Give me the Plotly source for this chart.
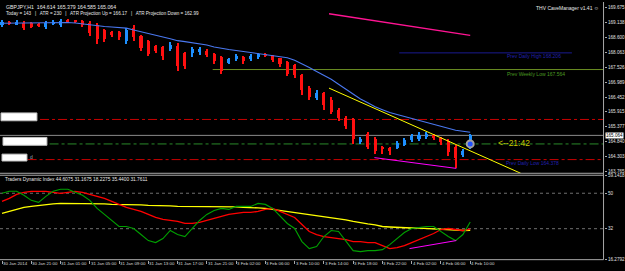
import plotly.graph_objects as go

W, H = 625, 271

# ---------------- data ----------------
bars = list(range(65))
opens = [169.07,169.18,169.07,169.14,169.11,169.07,169.00,169.11,169.04,169.21,
         169.21,169.21,169.14,169.04,168.86,168.79,168.79,168.47,168.93,168.65,
         168.47,168.29,168.26,168.19,168.29,168.05,168.05,168.08,168.12,168.01,
         167.91,167.69,167.83,167.91,167.83,167.91,168.01,167.94,167.87,167.73,
         167.62,167.23,166.77,166.42,166.60,166.35,165.99,165.71,165.64,164.83,
         165.11,164.93,164.65,164.61,164.61,164.72,164.90,164.93,165.00,165.07,
         164.97,164.86,164.65,164.37,164.614]
highs = [169.25,169.21,169.25,169.21,169.18,169.11,169.21,169.25,169.29,169.29,
         169.25,169.25,169.21,169.11,168.90,168.83,168.83,168.93,169.07,168.68,
         168.51,168.33,168.29,168.44,168.40,168.08,168.26,168.26,168.19,168.05,
         167.94,167.87,168.01,167.94,168.01,168.05,168.05,167.98,167.87,167.76,
         167.66,167.30,166.84,166.70,166.63,166.45,166.07,165.75,165.71,165.00,
         165.18,165.00,164.68,164.65,164.86,164.97,165.11,165.18,165.18,165.11,
         165.00,164.93,164.72,164.58,165.13]
lows = [169.00,169.04,169.04,168.86,168.93,169.00,168.90,169.07,169.00,169.14,
        169.14,169.00,168.65,168.37,168.44,168.61,168.51,168.37,168.47,168.12,
        167.94,168.05,167.80,168.12,167.41,167.48,167.91,167.98,167.91,167.66,
        167.30,167.66,167.76,167.66,167.76,167.83,167.91,167.73,167.55,167.20,
        167.13,166.53,166.35,166.35,165.99,165.82,165.57,165.29,164.76,164.76,
        164.58,164.40,164.40,164.37,164.58,164.68,164.83,164.86,164.93,164.90,
        164.72,164.33,163.87,164.30,164.585]
closes = [169.18,169.11,169.18,168.93,169.00,169.04,169.14,169.18,169.21,169.18,
          169.18,169.07,168.75,168.54,168.54,168.68,168.61,168.86,168.61,168.22,
          168.01,168.12,167.94,168.33,167.59,167.59,168.19,168.19,167.98,167.76,
          167.41,167.83,167.94,167.76,167.94,168.01,167.94,167.80,167.66,167.30,
          167.23,166.70,166.45,166.60,166.17,165.92,165.71,165.39,164.93,164.93,
          164.65,164.51,164.58,164.51,164.79,164.90,165.04,165.07,165.11,164.97,
          164.83,164.47,164.26,164.51,165.064]
ma_blue = [169.119,169.123,169.126,169.130,169.133,169.137,169.140,169.144,169.144,169.144,
           169.126,169.091,169.062,169.027,169.002,168.985,168.967,168.942,168.878,168.808,
           168.737,168.666,168.624,168.560,168.489,168.454,168.418,168.383,168.330,168.259,
           168.206,168.171,168.135,168.100,168.064,168.029,167.994,167.958,167.923,167.870,
           167.781,167.657,167.516,167.374,167.233,167.091,166.914,166.737,166.560,166.383,
           166.242,166.100,165.994,165.888,165.817,165.746,165.676,165.605,165.534,165.463,
           165.392,165.322,165.251,165.216,165.180]
pink_line_bars = [44.7, 54.3, 64.0]
pink_line_vals = [169.462, 169.073, 168.684]

tdi_green = [49.96,50.98,50.98,48.94,46.39,45.37,48.43,50.98,52.00,52.00,
             50.47,48.94,46.39,42.30,39.24,36.18,33.12,33.12,32.10,29.04,
             25.98,24.96,26.99,31.08,29.04,28.02,32.10,36.18,39.24,41.28,
             42.30,41.79,43.32,43.32,43.32,44.85,44.34,42.30,38.22,34.65,
             32.10,25.47,21.89,22.91,28.02,31.08,30.57,25.98,20.87,20.36,
             20.87,20.87,21.38,23.93,26.99,30.06,32.10,32.61,33.12,33.12,
             30.57,28.02,25.98,29.04,35.44]
tdi_red = [45.87,47.41,49.45,50.47,50.98,50.98,50.98,50.47,49.96,50.47,
           50.98,50.47,49.45,48.43,47.41,45.87,44.34,42.81,41.79,40.77,
           39.24,37.71,36.69,36.18,35.67,34.65,34.65,35.16,36.18,37.20,
           38.22,39.24,39.75,40.26,40.26,40.77,41.79,42.30,40.77,39.24,
           37.71,34.14,30.57,29.04,28.02,27.51,26.99,26.48,25.47,25.47,
           24.96,24.96,23.43,21.89,22.40,23.43,24.96,26.48,28.02,29.55,
           31.59,32.10,31.59,31.08,31.7611]
tdi_yellow = [39.75,40.77,41.79,42.81,43.32,43.83,44.34,44.60,44.85,44.85,
              44.85,44.85,44.85,44.60,44.60,44.34,44.34,44.34,44.09,44.09,
              43.83,43.83,43.58,43.58,43.32,43.32,43.32,43.07,43.07,43.07,
              43.07,43.07,43.07,42.81,42.81,42.56,42.30,41.79,41.28,40.77,
              40.26,39.75,39.24,38.73,38.22,37.71,37.20,36.44,35.67,34.91,
              34.40,33.89,33.12,32.87,32.61,32.46,32.36,32.25,32.10,32.10,
              31.85,31.59,31.34,31.08,31.1675]

time_label_bars = [0,4,8,12,16,20,24,28,32,36,40,44,48,52,56,60,64]
time_labels = ["30 Jan 2014","30 Jan 21:00","31 Jan 01:00","31 Jan 05:00","31 Jan 09:00",
               "31 Jan 13:00","31 Jan 17:00","31 Jan 21:00","3 Feb 02:00","3 Feb 06:00",
               "3 Feb 10:00","3 Feb 14:00","3 Feb 18:00","3 Feb 22:00","4 Feb 02:00",
               "4 Feb 06:00","4 Feb 10:00"]
price_ticks = [169.675,169.138,168.600,168.063,167.526,166.989,166.452,165.915,
               165.377,164.840,164.303,163.765]
tdi_ticks = [59.1418, 50, 32, 16.2792]
tdi_tick_text = ["59.1418", "50", "32", "16.2792"]
last_price = 165.064

prev_daily_high = 168.047
prev_weekly_low = 167.445
level_red_1 = 165.640
level_green = 164.755
level_red_2 = 164.189
trend_yellow_x = [44.7, 70.9]
trend_yellow_y = [166.773, 163.694]
trend_magenta_x = [50.9, 62.1]
trend_magenta_y = [164.26, 163.87]
tdi_magenta_x = [55.7, 62.1]
tdi_magenta_y = [21.89, 25.98]

# ---------------- figure ----------------
XR = [-0.273, 82.29]
PRICE_RANGE = [163.694, 169.887]
TDI_RANGE = [16.2792, 59.1418]
PLOT_R = 605
FONT = "Liberation Sans"

def px(x):
    return x / W

def py(y):
    return 1 - y / H

BULL = "#1e90ff"
BEAR = "#ff1010"
colors = [BULL if c >= o else BEAR for o, c in zip(opens, closes)]

fig = go.Figure()
fig.add_trace(go.Bar(x=bars, y=[h - l for h, l in zip(highs, lows)], base=lows,
                     width=0.14, marker=dict(color=colors, line=dict(width=0)),
                     xaxis="x", yaxis="y", hoverinfo="skip"))
body_lo = [min(o, c) for o, c in zip(opens, closes)]
body_h = [max(abs(c - o), 0.015) for o, c in zip(opens, closes)]
fig.add_trace(go.Bar(x=bars, y=body_h, base=body_lo, width=0.42,
                     marker=dict(color=colors, line=dict(width=0)),
                     xaxis="x", yaxis="y", hoverinfo="skip"))
fig.add_trace(go.Scatter(x=bars, y=ma_blue, mode="lines",
                         line=dict(color="#4a78f0", width=1.1), xaxis="x", yaxis="y"))
fig.add_trace(go.Scatter(x=pink_line_bars, y=pink_line_vals, mode="lines",
                         line=dict(color="#ff1493", width=1.3), xaxis="x", yaxis="y"))
fig.add_trace(go.Scatter(x=trend_yellow_x, y=trend_yellow_y, mode="lines",
                         line=dict(color="#ffff00", width=1), xaxis="x", yaxis="y"))
fig.add_trace(go.Scatter(x=trend_magenta_x, y=trend_magenta_y, mode="lines",
                         line=dict(color="#ff00ff", width=1), xaxis="x", yaxis="y"))
fig.add_trace(go.Scatter(x=[bars[-1]], y=[level_green], mode="markers",
                         marker=dict(size=7, color="#2050ff", line=dict(color="#a0a0a0", width=2)),
                         xaxis="x", yaxis="y"))

fig.add_trace(go.Scatter(x=bars, y=tdi_yellow, mode="lines",
                         line=dict(color="#ffff00", width=1.3), xaxis="x2", yaxis="y2"))
fig.add_trace(go.Scatter(x=bars, y=tdi_red, mode="lines",
                         line=dict(color="#ff0000", width=1.3), xaxis="x2", yaxis="y2"))
fig.add_trace(go.Scatter(x=bars, y=tdi_green, mode="lines",
                         line=dict(color="#00a000", width=1.1), xaxis="x2", yaxis="y2"))
fig.add_trace(go.Scatter(x=tdi_magenta_x, y=tdi_magenta_y, mode="lines",
                         line=dict(color="#ff00ff", width=1), xaxis="x2", yaxis="y2"))

shapes = []
def hline(y, x0, color, dash="solid", yref="y", width=1):
    shapes.append(dict(type="line", xref="x", yref=yref, x0=x0, x1=XR[1], y0=y, y1=y,
                       line=dict(color=color, width=width, dash=dash), layer="below"))

hline(prev_weekly_low, 28.8, "#6b8e23")
shapes.append(dict(type="line", xref="x", yref="y", x0=54.3, x1=77.9, y0=prev_daily_high,
                   y1=prev_daily_high, line=dict(color="#1a1a90", width=1), layer="below"))
hline(level_red_1, 5.2, "#c80000", "dashdot")
hline(last_price, XR[0], "#8a8a8a")
hline(level_green, 6.5, "#2a8a2a", "dashdot")
hline(level_red_2, 3.5, "#c80000", "dashdot")
shapes.append(dict(type="line", xref="x2", yref="y2", x0=XR[0], x1=XR[1], y0=50, y1=50,
                   line=dict(color="#707070", width=1, dash="dot"), layer="below"))
shapes.append(dict(type="line", xref="x2", yref="y2", x0=XR[0], x1=XR[1], y0=32, y1=32,
                   line=dict(color="#707070", width=1, dash="dot"), layer="below"))

FR = "#a8a8a8"
shapes.append(dict(type="line", xref="paper", yref="paper", x0=px(604.5), x1=px(604.5),
                   y0=py(0), y1=py(262.5), line=dict(color=FR, width=1)))
for yy in (174.5, 176.5, 262.5):
    shapes.append(dict(type="line", xref="paper", yref="paper", x0=0, x1=px(604.5),
                       y0=py(yy), y1=py(yy), line=dict(color=FR, width=1)))
for (x0, y0, x1, y1) in [(1, 113, 37, 121), (3, 138, 47, 146), (2, 155, 27, 162)]:
    shapes.append(dict(type="rect", xref="paper", yref="paper", x0=px(x0), x1=px(x1),
                       y0=py(y1), y1=py(y0), fillcolor="white", line=dict(color="#c0c0c0", width=1)))

ann = []
def text(x, y, s, color="#e8e8e8", size=5, anchor="left", bg=None):
    d = dict(x=px(x), y=py(y), xref="paper", yref="paper", text=s, showarrow=False,
             xanchor=anchor, yanchor="middle", font=dict(family=FONT, size=size, color=color))
    if bg:
        d["bgcolor"] = bg
        d["borderpad"] = 0
    ann.append(d)

text(4, 5, "GBPJPY,H1  164.614 165.379 164.585 165.064", size=5.2)
text(4, 11.5, "Today = 143   |   ATR = 230   |   ATR Projection Up = 166.17   |   ATR Projection Down = 162.99", size=4.6)
text(602, 6, "THV CaveManager v1.41 \u263a", size=5, anchor="right")
text(564, 55.5, "Prev Daily High 168.206", color="#2020b0", size=5, anchor="right")
text(568, 73, "Prev Weekly Low 167.564", color="#4a9a20", size=5, anchor="right")
text(562, 164, "Prev Daily Low 164.378", color="#2020b0", size=5, anchor="right")
text(497, 143.5, "<--21:42", color="#c8c800", size=8.5)
text(3, 180.5, "Traders Dynamic Index 44.6075 31.1675 18.2275 35.4400 31.7611", size=4.8)
text(28, 158, "d", color="#9ab", size=5)
text(606, 136.5, "165.064", color="#000000", size=4.6, bg="#ffffff")

for b, s in zip(time_label_bars, time_labels):
    ann.append(dict(x=b - 0.15, y=py(266.5), xref="x2", yref="paper", text=s, showarrow=False,
                    xanchor="left", yanchor="middle",
                    font=dict(family=FONT, size=4.4, color="#d8d8d8")))

axis_font = dict(family=FONT, size=4.6, color="#e0e0e0")
fig.update_layout(
    width=W, height=H, margin=dict(l=0, r=0, t=0, b=0),
    paper_bgcolor="black", plot_bgcolor="black", showlegend=False,
    barmode="overlay", bargap=0,
    xaxis=dict(domain=[0, px(PLOT_R)], range=XR, anchor="y", showgrid=False, zeroline=False,
               showticklabels=False, ticks="", showline=False, fixedrange=True),
    xaxis2=dict(domain=[0, px(PLOT_R)], range=XR, anchor="y2", showgrid=False, zeroline=False,
                tickvals=time_label_bars, ticks="outside", ticklen=3, tickcolor=FR,
                showticklabels=False, showline=False),
    yaxis=dict(domain=[py(174.5), 1], range=PRICE_RANGE, side="right", anchor="x",
               tickvals=price_ticks, ticktext=["%.3f" % v for v in price_ticks],
               ticks="outside", ticklen=2, tickcolor=FR, tickfont=axis_font,
               showgrid=False, zeroline=False, showline=False),
    yaxis2=dict(domain=[py(262.5), py(176.5)], range=TDI_RANGE, side="right", anchor="x2",
                tickvals=tdi_ticks, ticktext=tdi_tick_text,
                ticks="outside", ticklen=2, tickcolor=FR, tickfont=axis_font,
                showgrid=False, zeroline=False, showline=False),
    shapes=shapes, annotations=ann,
)

fig.write_html("out.html")
